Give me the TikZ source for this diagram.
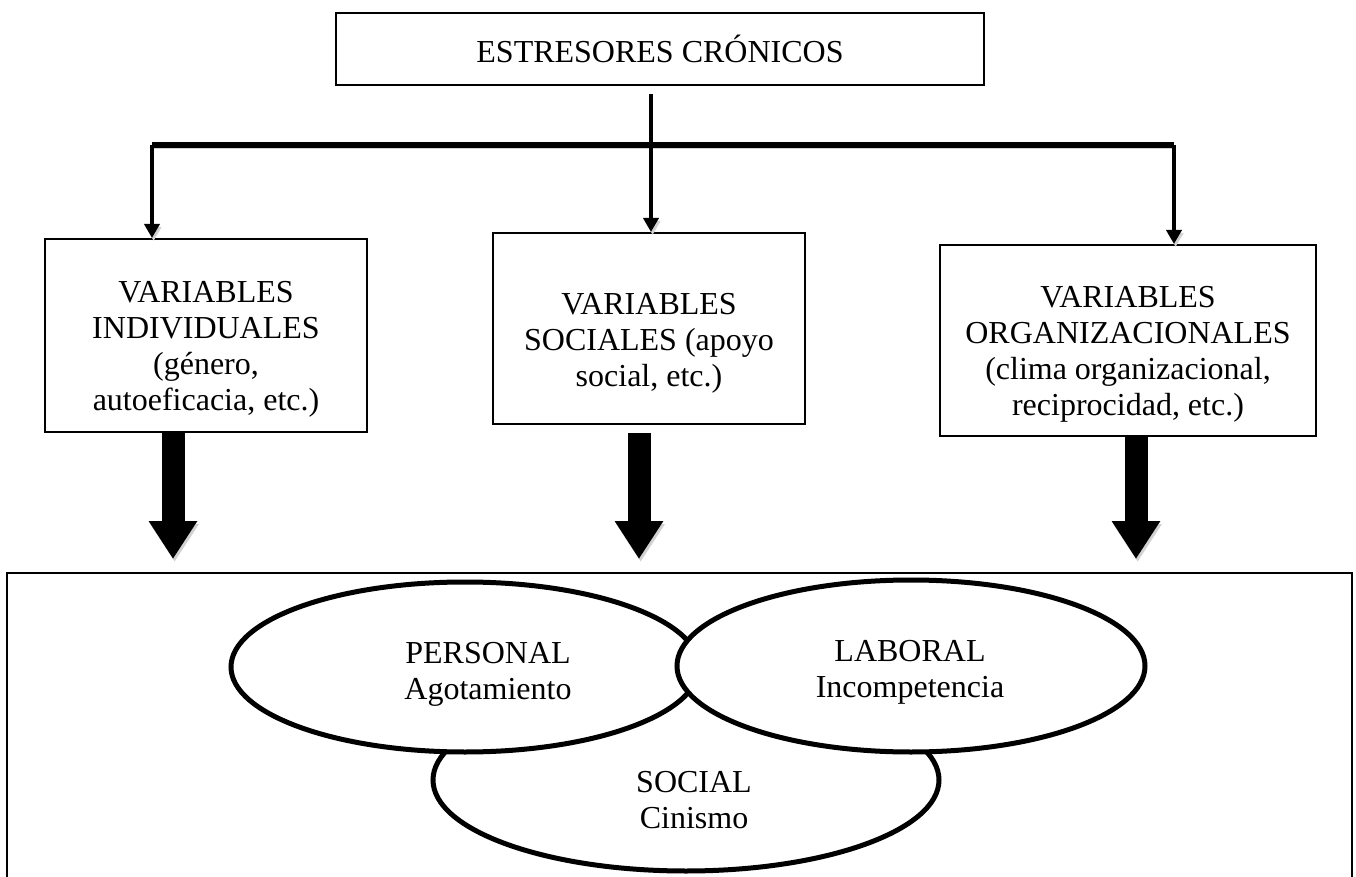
\documentclass[tikz,border=0pt]{standalone}
\usepackage{fontspec}
\setmainfont{Liberation Serif}
\usetikzlibrary{arrows.meta,shapes.geometric}
\tikzset{
    >=Stealth,
    burnout/.style={
        box/.append style={draw,line width=1pt,align=center,inner sep=0pt,font=\fontsize{16}{18}\selectfont},
        oval/.append style={draw,ellipse,line width=2.5pt,fill=white,inner sep=0pt},
        txt/.append style={align=center,inner sep=0pt,font=\fontsize{16}{18}\selectfont},
        conn/.append style={draw,line width=2.3pt,-{Triangle[width=7.5pt,length=7pt]}},
        branch/.append style={draw,line width=3pt},
        bigarrow/.append style={draw,line width=11.5pt,-{Triangle[width=23pt,length=19pt]}},
        dropped/.append style={preaction={draw=black!18,transform canvas={shift={(0.8pt,-1.5pt)}}}}
    }
}

\begin{document}
\begin{tikzpicture}[burnout,x=0.5pt,y=-0.5pt]
    \path[use as bounding box,clip] (0,0) rectangle (1356,877);

    \node[box,minimum width=324pt,minimum height=36pt] (stress) at (660,49) {ESTRESORES CRÓNICOS};

    \node[box,minimum width=161pt,minimum height=96.5pt] (ind) at (206,335.5) {};
    \node[box,minimum width=156pt,minimum height=95.5pt] (soc) at (649,328.5) {};
    \node[box,minimum width=188pt,minimum height=95.5pt] (org) at (1128,340.5) {};
    \node[txt] (indtxt) at (206,349.5) {VARIABLES\\INDIVIDUALES\\(género,\\autoeficacia, etc.)};
    \node[txt] (soctxt) at (649,343.5) {VARIABLES\\SOCIALES (apoyo\\social, etc.)};
    \node[txt] (orgtxt) at (1128,354.5) {VARIABLES\\ORGANIZACIONALES\\(clima organizacional,\\reciprocidad, etc.)};

    \node[box,minimum width=672.5pt,minimum height=170pt] (frame) at (679.5,743) {};

    \coordinate (c0) at (651,0);
    \coordinate (bl) at (152,145);
    \coordinate (br) at (1174,145);
    \draw[branch,dropped] (bl) -- (br);
    \draw[conn,dropped,shorten <=4pt] (stress.south -| c0) -- (soc.north -| c0);
    \draw[conn,dropped] (bl) -- (ind.north -| bl);
    \draw[conn,dropped] (br) -- (org.north -| br);

    \coordinate (a1) at (173,0);
    \coordinate (a2) at (639,0);
    \coordinate (a3) at (1136,0);
    \draw[bigarrow,dropped,shorten >=6.5pt] (ind.south -| a1) -- (frame.north -| a1);
    \draw[bigarrow,dropped,shorten <=4pt,shorten >=6.5pt] (soc.south -| a2) -- (frame.north -| a2);
    \draw[bigarrow,dropped,shorten >=6.5pt] (org.south -| a3) -- (frame.north -| a3);

    \node[oval,minimum width=253pt,minimum height=91pt] (social) at (686,780) {};
    \node[oval,minimum width=234pt,minimum height=85pt] (personal) at (465,667) {};
    \node[oval,minimum width=234pt,minimum height=86pt] (laboral) at (911,666) {};
    \node[txt] (personaltxt) at (488,674) {PERSONAL\\Agotamiento};
    \node[txt] (laboraltxt) at (910,672) {LABORAL\\Incompetencia};
    \node[txt] (socialtxt) at (694,800) {SOCIAL\\Cinismo};
\end{tikzpicture}
\end{document}
